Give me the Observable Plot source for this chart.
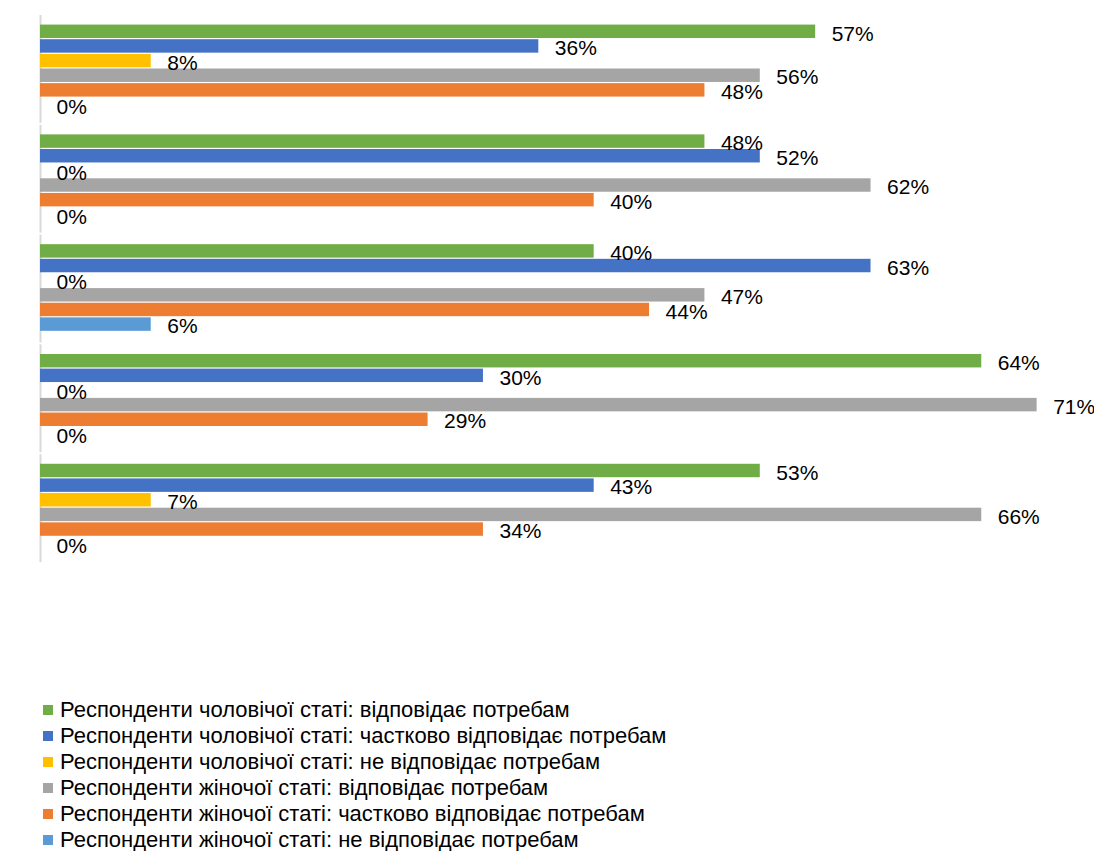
<!DOCTYPE html>
<html><head><meta charset="utf-8">
<script src="https://cdn.jsdelivr.net/npm/d3@7"></script>
<script src="https://cdn.jsdelivr.net/npm/@observablehq/plot@0.6"></script>
<style>
body{margin:0;background:#fff;font-family:"Liberation Sans",Arimo,Arial,sans-serif;}
#legend{margin-top:135px;padding-left:43px;font-size:22px;color:#000;}
.item{display:flex;align-items:center;height:26px;line-height:26px;white-space:nowrap;}
.sw{width:10px;height:10px;margin-right:7px;flex:none;}
</style></head>
<body>
<div id="chart"></div>
<div id="legend"></div>
<script>
const groups = ["1", "2", "3", "4", "5"];
const series = [
  "Респонденти чоловічої статі: відповідає потребам",
  "Респонденти чоловічої статі: частково відповідає потребам",
  "Респонденти чоловічої статі: не відповідає потребам",
  "Респонденти жіночої статі: відповідає потребам",
  "Респонденти жіночої статі: частково відповідає потребам",
  "Респонденти жіночої статі: не відповідає потребам"
];
const colors = ["#70AD47", "#4472C4", "#FFC000", "#A5A5A5", "#ED7D31", "#5B9BD5"];
// bar lengths (respondent counts) per group, in series order
const g1Values = [14, 9, 2, 13, 12, 0];
const g2Values = [12, 13, 0, 15, 10, 0];
const g3Values = [10, 15, 0, 12, 11, 2];
const g4Values = [17, 8, 0, 18, 7, 0];
const g5Values = [13, 10, 2, 17, 8, 0];
// data labels (percent) per group
const g1Labels = ["57%", "36%", "8%", "56%", "48%", "0%"];
const g2Labels = ["48%", "52%", "0%", "62%", "40%", "0%"];
const g3Labels = ["40%", "63%", "0%", "47%", "44%", "6%"];
const g4Labels = ["64%", "30%", "0%", "71%", "29%", "0%"];
const g5Labels = ["53%", "43%", "7%", "66%", "34%", "0%"];

const allValues = [g1Values, g2Values, g3Values, g4Values, g5Values];
const allLabels = [g1Labels, g2Labels, g3Labels, g4Labels, g5Labels];
const data = [];
groups.forEach((g, gi) => series.forEach((s, si) => {
  data.push({group: g, series: s, value: allValues[gi][si], label: allLabels[gi][si]});
}));

const FONT = "'Liberation Sans',Arimo,Arial,sans-serif";
const chart = Plot.plot({
  width: 1094,
  height: 562,
  marginTop: 13,
  marginBottom: 0,
  marginLeft: 40,
  marginRight: 2,
  style: {fontFamily: FONT, background: "#fff"},
  x: {domain: [0, 19], axis: null},
  y: {domain: series, axis: null, padding: 0, round: false},
  fy: {domain: groups, axis: null, paddingInner: 0.2, paddingOuter: 0.1, round: false},
  color: {domain: series, range: colors},
  facet: {data: data, y: "group"},
  marks: [
    Plot.ruleX([0], {stroke: "#d9d9d9", strokeWidth: 2, insetTop: -9, insetBottom: -11}),
    Plot.barX(data, {x: "value", y: "series", fill: "series", insetTop: 0.6, insetBottom: 0.6}),
    Plot.text(data, {x: "value", y: "series", text: "label", textAnchor: "start", dx: 16, dy: 2, fontSize: 21, fill: "#000"})
  ]
});
document.getElementById("chart").appendChild(chart);

const legend = d3.select("#legend");
series.forEach((s, i) => {
  const it = legend.append("div").attr("class", "item");
  it.append("div").attr("class", "sw").style("background", colors[i]);
  it.append("span").text(s);
});
</script>
</body></html>
